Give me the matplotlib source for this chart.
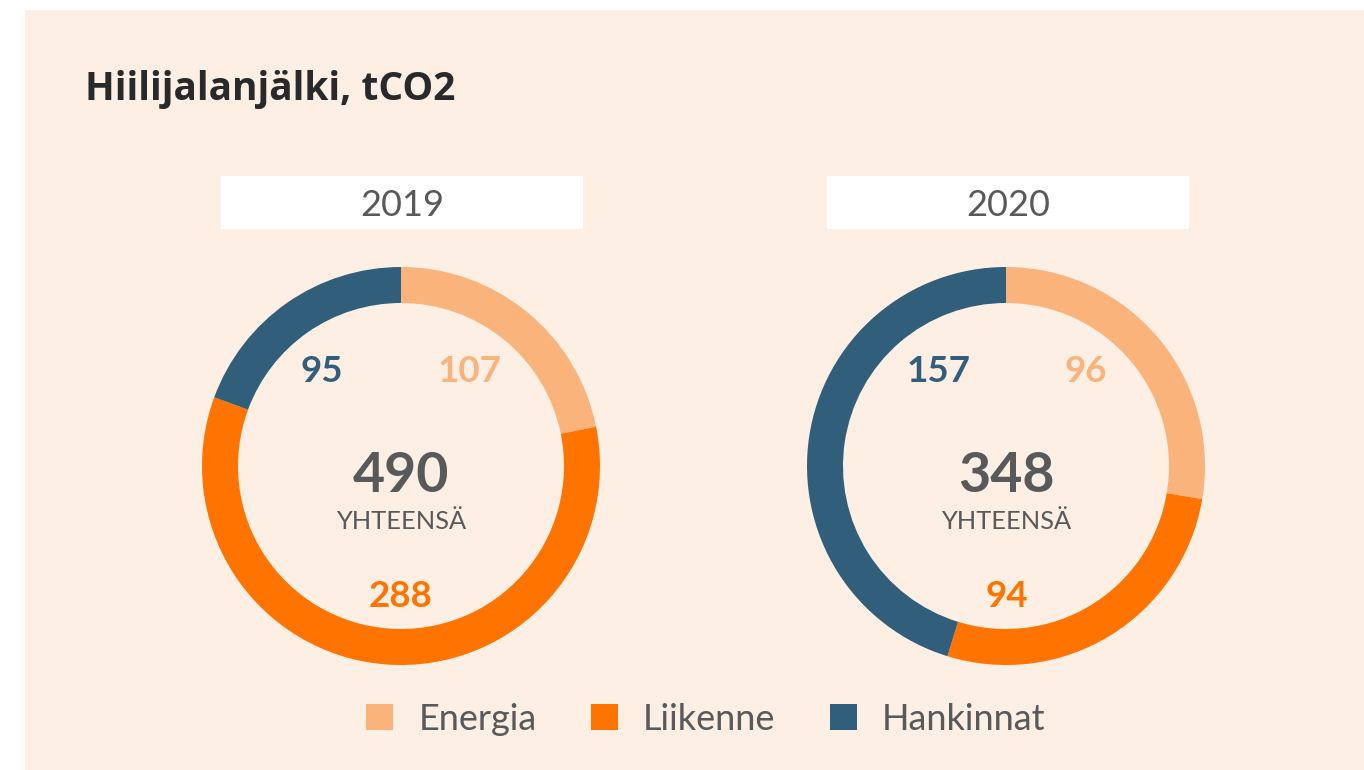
import matplotlib
matplotlib.use("Agg")
import matplotlib.pyplot as plt
from matplotlib.patches import Rectangle

# ---- data ----
title = "Hiilijalanjälki, tCO2"
categories = ["Energia", "Liikenne", "Hankinnat"]
years = ["2019", "2020"]
values_2019 = [107, 288, 95]
values_2020 = [96, 94, 157]
totals = [490, 348]
total_label = "YHTEENSÄ"
colors = ["#F9B37B", "#FF7300", "#315E7B"]

W, H = 1364, 770
BG = "#FDEFE3"
GRAY = "#58595B"

plt.rcParams['font.family'] = ['Lato', 'DejaVu Sans']

fig = plt.figure(figsize=(W / 100, H / 100), dpi=100, facecolor="white")
ax = fig.add_axes([0, 0, 1, 1])


def Y(y):
    return H - y


ax.add_patch(Rectangle((25, 0), W - 25, Y(10), facecolor=BG, edgecolor="none", zorder=0))

ax.text(85, Y(100), title, fontsize=28, fontweight="bold", color="#27292B",
        ha="left", va="baseline", family=["Open Sans", "DejaVu Sans"])

centers_x = [401, 1006]
center_y = 466
R_out, ring = 199, 36
boxes = [(221, 583), (827, 1189)]
label_pos = [
    [(470, 382), (401, 607), (322, 382)],
    [(1086, 382), (1007, 607), (939, 382)],
]
all_vals = [values_2019, values_2020]

wedges_first = None
for i, vals in enumerate(all_vals):
    cx = centers_x[i]
    wedges, _ = ax.pie(vals, colors=colors, startangle=90, counterclock=False,
                       radius=R_out, center=(cx, Y(center_y)),
                       wedgeprops=dict(width=ring, linewidth=0))
    if wedges_first is None:
        wedges_first = wedges
    x0, x1 = boxes[i]
    ax.add_patch(Rectangle((x0, Y(229)), x1 - x0, 53, facecolor="white",
                           edgecolor="none", zorder=1))
    ax.text((x0 + x1) / 2, Y(216), years[i], fontsize=26, color=GRAY,
            ha="center", va="baseline", zorder=2)
    for v, (lx, ly), c in zip(vals, label_pos[i], colors):
        ax.text(lx, Y(ly), str(v), fontsize=26.5, fontweight="bold", color=c,
                ha="center", va="baseline")
    ax.text(cx, Y(492), str(totals[i]), fontsize=40, fontweight="bold",
            color=GRAY, ha="center", va="baseline")
    ax.text(cx, Y(529), total_label, fontsize=18.3, color=GRAY,
            ha="center", va="baseline")

leg = ax.legend(wedges_first, categories, loc="center", ncol=3,
                bbox_to_anchor=(706 / W, 1 - 719 / H), frameon=False,
                fontsize=26, handlelength=0.75, handleheight=0.75,
                handletextpad=0.69, columnspacing=1.51, borderpad=0)
for t in leg.get_texts():
    t.set_color(GRAY)

ax.set_xlim(0, W)
ax.set_ylim(0, H)
ax.set_aspect("auto")
ax.axis("off")

fig.savefig("out.png", dpi=100, facecolor="white")
